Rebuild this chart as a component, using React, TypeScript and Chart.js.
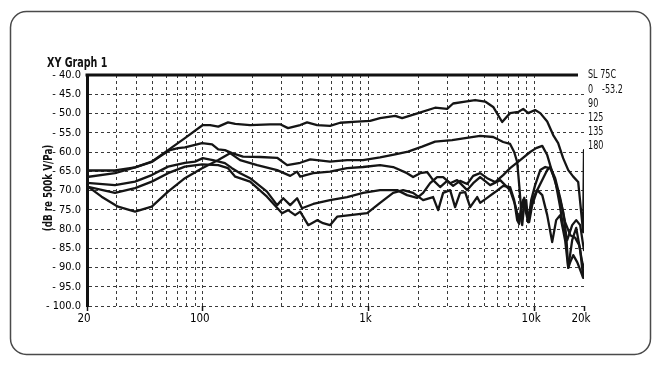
import React, { useEffect, useRef } from 'react';
import { Chart, registerables } from 'chart.js';

Chart.register(...registerables);

const FONT = "'DejaVu Sans Condensed', 'Liberation Sans Narrow', sans-serif";

const chartTitle = 'XY Graph 1';
const yAxisTitle = '(dB re 500k V/Pa)';
const legendHeader = 'SL 75C';
const legendNames = ['0', '90', '125', '135', '180'];
const legendValues = ['-53.2', '', '', '', ''];

const yTicks = [-40, -45, -50, -55, -60, -65, -70, -75, -80, -85, -90, -95, -100];
const xTickValues = [20, 30, 40, 50, 60, 70, 80, 90, 100, 200, 300, 400, 500, 600, 700, 800, 900,
  1000, 2000, 3000, 4000, 5000, 6000, 7000, 8000, 9000, 10000, 20000];
const xTickLabels: Record<number, string> = { 20: '20', 100: '100', 1000: '1k', 10000: '10k', 20000: '20k' };

// 0 deg
const freq0 = [20, 29.5, 39, 49.2, 61.7, 78, 100, 110.7, 124, 142, 157, 193, 255, 293, 327, 387, 426, 490, 586, 675, 854, 1023, 1175, 1449, 1597, 1996, 2525, 2985, 3243, 3834, 4406, 5061, 5662, 6412, 7161, 8018, 8590, 9205, 10140, 10890, 11995, 13032, 13964, 14963, 16069, 17218, 18452, 19232, 19770, 20000];
const db0 = [-66.5, -65.5, -64.0, -62.5, -59.5, -56.4, -53.0, -53.0, -53.4, -52.3, -52.7, -53.0, -52.8, -52.8, -53.8, -53.0, -52.3, -53.0, -53.2, -52.4, -52.1, -51.9, -51.2, -50.6, -51.2, -49.9, -48.5, -48.8, -47.4, -46.9, -46.5, -46.9, -48.3, -52.2, -49.9, -49.6, -48.8, -49.9, -49.1, -49.9, -52.1, -55.6, -57.7, -61.6, -64.7, -66.4, -67.8, -75.6, -80.8, -59.5];

// 90 deg
const freq90 = [20, 29.5, 39, 49.2, 56.8, 63.4, 70.9, 78, 99, 113.8, 124, 136, 150, 175, 222, 281, 323, 387, 445, 586, 743, 928, 1175, 1449, 1734, 2108, 2525, 3199, 3834, 4722, 5662, 6503, 7161, 7578, 7902, 8128, 8354, 8472, 8710, 8954, 9205, 9598, 10140, 10890, 11668, 12503, 13397, 14355, 14963, 15834, 16972, 17948, 18970, 19770, 20000];
const db90 = [-64.8, -64.8, -64.0, -62.6, -60.8, -59.5, -59.0, -58.8, -57.7, -58.0, -59.3, -59.5, -60.3, -61.2, -61.3, -61.5, -63.4, -62.8, -61.9, -62.5, -62.1, -62.1, -61.4, -60.6, -59.9, -58.6, -57.3, -56.9, -56.4, -55.8, -56.1, -57.4, -57.9, -60.0, -62.6, -68.6, -75.1, -79.0, -73.8, -72.5, -78.2, -72.5, -68.6, -64.7, -63.9, -64.2, -67.3, -74.3, -79.5, -82.9, -79.0, -77.7, -79.0, -84.2, -85.5];

// 125 deg
const freq125 = [20, 24.5, 30.8, 39, 49.2, 61.7, 78, 99, 124, 146, 168, 213, 281, 337, 371, 387, 464, 586, 743, 928, 1175, 1409, 1710, 1860, 2051, 2260, 2456, 2708, 2985, 3243, 3574, 3943, 4286, 4722, 5206, 5818, 6503, 7161, 8241, 9464, 10282, 11196, 11995, 12853, 13964, 14963, 15614, 16069, 16520, 17218, 18197, 18970, 19770, 20000];
const db125 = [-68.8, -71.6, -74.2, -75.5, -74.2, -70.3, -66.8, -64.2, -62.1, -60.3, -62.1, -63.4, -64.7, -66.2, -65.1, -66.4, -65.5, -65.1, -64.2, -63.9, -63.4, -63.9, -65.5, -66.5, -65.5, -65.2, -67.3, -69.1, -67.5, -68.8, -67.5, -68.3, -66.2, -65.5, -66.8, -67.8, -66.0, -64.2, -62.1, -60.0, -59.0, -58.4, -60.8, -65.2, -70.4, -75.6, -81.6, -90.1, -88.6, -86.8, -88.6, -90.6, -92.7, -92.2];

// 135 deg
const freq135 = [20, 29.5, 39, 49.2, 61.7, 78, 89.8, 100, 115, 136, 150, 168, 193, 244, 281, 306, 337, 371, 397, 464, 586, 743, 928, 1175, 1490, 1710, 1968, 2138, 2356, 2597, 2823, 3112, 3428, 3943, 4286, 4722, 5429, 6238, 6683, 7161, 7692, 8128, 8590, 9205, 9734, 10436, 11196, 11995, 12853, 13586, 14355, 15383, 16069, 16972, 17948, 18970, 19770, 20000];
const db135 = [-68.0, -68.6, -67.7, -66.0, -63.8, -62.8, -62.5, -61.6, -62.1, -62.9, -64.2, -65.5, -66.8, -70.3, -73.8, -72.0, -73.8, -72.0, -74.6, -73.5, -72.5, -71.7, -70.6, -69.9, -69.9, -71.2, -71.9, -70.6, -68.1, -66.5, -66.5, -68.1, -67.3, -69.9, -68.1, -66.5, -68.6, -67.3, -68.6, -69.9, -73.8, -78.2, -72.5, -78.2, -72.5, -69.9, -71.2, -76.4, -83.4, -77.7, -76.4, -82.9, -90.1, -82.9, -79.7, -85.5, -92.5, -90.6];

// 180 deg
const freq180 = [20, 29.5, 39, 49.2, 61.7, 78, 99, 124, 142, 157, 193, 244, 301, 327, 361, 387, 433, 490, 532, 586, 647, 775, 982, 1175, 1409, 1619, 1860, 2138, 2456, 2634, 2823, 3112, 3334, 3574, 3834, 4111, 4530, 4722, 5206, 5818, 6503, 7161, 7578, 7902, 8128, 8354, 8710, 9078, 9334, 9734, 10436, 11196, 11995, 12503, 13397, 14355, 15383, 16520, 17701, 18709, 19502, 20000];
const db180 = [-69.0, -70.6, -69.4, -67.7, -65.5, -63.8, -63.2, -63.4, -64.2, -66.4, -67.7, -71.6, -75.9, -75.1, -76.4, -75.5, -79.0, -77.7, -78.5, -79.0, -76.8, -76.4, -75.9, -73.2, -70.6, -69.9, -70.6, -72.5, -71.7, -75.1, -70.6, -69.9, -74.3, -70.6, -70.4, -74.3, -71.7, -73.2, -71.9, -70.4, -68.8, -69.1, -72.5, -77.7, -78.7, -73.8, -71.9, -76.4, -78.2, -73.8, -69.9, -67.3, -64.7, -63.9, -66.8, -71.9, -78.2, -81.6, -82.3, -84.2, -88.6, -90.1];

const seriesFreqs = [freq0, freq90, freq125, freq135, freq180];
const seriesDb = [db0, db90, db125, db135, db180];

// draw text horizontally condensed to mimic the narrow face of the original
function narrowText(ctx: CanvasRenderingContext2D, text: string, x: number, y: number, squeeze: number) {
  ctx.save();
  ctx.translate(x, y);
  ctx.scale(squeeze, 1);
  ctx.fillText(text, 0, 0);
  ctx.restore();
}

const decoPlugin = {
  id: 'deco',
  beforeDraw(chart: any) {
    const ctx = chart.ctx;
    ctx.save();
    ctx.fillStyle = '#ffffff';
    ctx.fillRect(0, 0, chart.width, chart.height);
    ctx.strokeStyle = '#4a4a4a';
    ctx.lineWidth = 1.5;
    const x = 10.5, y = 11.5, w = 640, h = 343, r = 16;
    ctx.beginPath();
    ctx.moveTo(x + r, y);
    ctx.lineTo(x + w - r, y);
    ctx.arcTo(x + w, y, x + w, y + r, r);
    ctx.lineTo(x + w, y + h - r);
    ctx.arcTo(x + w, y + h, x + w - r, y + h, r);
    ctx.lineTo(x + r, y + h);
    ctx.arcTo(x, y + h, x, y + h - r, r);
    ctx.lineTo(x, y + r);
    ctx.arcTo(x, y, x + r, y, r);
    ctx.closePath();
    ctx.stroke();
    ctx.restore();
  },
  afterDraw(chart: any) {
    const ctx = chart.ctx;
    const area = chart.chartArea;
    ctx.save();
    ctx.strokeStyle = '#111';
    ctx.lineWidth = 3;
    ctx.beginPath();
    ctx.moveTo(area.left - 1.5, area.top);
    ctx.lineTo(area.right - 6, area.top);
    ctx.stroke();

    ctx.fillStyle = '#111';
    ctx.textBaseline = 'alphabetic';
    ctx.textAlign = 'left';
    ctx.font = `bold 14px ${FONT}`;
    narrowText(ctx, chartTitle, 47, 67, 0.76);

    ctx.save();
    ctx.translate(52, 188);
    ctx.rotate(-Math.PI / 2);
    ctx.textAlign = 'center';
    ctx.font = `bold 12.5px ${FONT}`;
    ctx.scale(0.78, 1);
    ctx.fillText(yAxisTitle, 0, 0);
    ctx.restore();

    ctx.font = `11.5px ${FONT}`;
    ctx.textBaseline = 'middle';
    narrowText(ctx, legendHeader, 588, 75, 0.78);
    legendNames.forEach((name, i) => {
      const yy = 90 + i * 14;
      narrowText(ctx, name, 588, yy, 0.78);
      if (legendValues[i]) narrowText(ctx, legendValues[i], 602, yy, 0.78);
    });
    ctx.restore();
  },
};

export default function App() {
  const ref = useRef<HTMLCanvasElement | null>(null);

  useEffect(() => {
    if (!ref.current) return;
    const datasets = seriesFreqs.map((fr, si) => ({
      label: legendNames[si],
      data: fr.map((f, i) => ({ x: f, y: seriesDb[si][i] })),
      borderColor: '#151515',
      borderWidth: 2.3,
      pointRadius: 0,
      tension: 0,
      fill: false,
      borderJoinStyle: 'round' as const,
      borderCapStyle: 'round' as const,
    }));

    const chart = new Chart(ref.current, {
      type: 'line',
      data: { datasets },
      plugins: [decoPlugin],
      options: {
        animation: false,
        responsive: false,
        maintainAspectRatio: false,
        parsing: false as any,
        layout: { padding: { left: 0, right: 79, top: 75, bottom: 44 } },
        plugins: { legend: { display: false }, tooltip: { enabled: false } },
        scales: {
          x: {
            type: 'logarithmic',
            min: 20,
            max: 20000,
            afterBuildTicks: (s: any) => { s.ticks = xTickValues.map((v) => ({ value: v })); },
            afterFit: (s: any) => { s.height = 20; },
            ticks: {
              autoSkip: false,
              maxRotation: 0,
              minRotation: 0,
              padding: 1,
              labelOffset: -3,
              color: '#000',
              font: { family: FONT, size: 11.5 },
              callback: (v: any) => xTickLabels[Number(v)] ?? '',
            },
            grid: {
              color: (c: any) => (c.tick && c.tick.value === 20000 ? 'rgba(0,0,0,0)' : '#3a3a3a'),
              lineWidth: 1,
              tickLength: 5,
              tickWidth: 1.5,
              tickBorderDash: [],
              tickColor: (c: any) => (c.tick && xTickLabels[c.tick.value] ? '#111' : 'rgba(0,0,0,0)'),
            },
            border: { display: false, dash: [3, 3] },
          } as any,
          y: {
            type: 'linear',
            min: -100,
            max: -40,
            afterBuildTicks: (s: any) => { s.ticks = yTicks.map((v) => ({ value: v })); },
            afterFit: (s: any) => { s.width = 87; },
            ticks: {
              padding: 6,
              color: '#000',
              font: { family: FONT, size: 11 },
              callback: (v: any) => '- ' + Math.abs(Number(v)).toFixed(1),
            },
            grid: {
              color: (c: any) => (c.tick && c.tick.value === -40 ? 'rgba(0,0,0,0)' : '#3a3a3a'),
              lineWidth: 1,
              drawTicks: false,
            },
            border: { display: true, color: '#111', width: 3, dash: [3, 3] },
          } as any,
        },
      },
    });
    return () => chart.destroy();
  }, []);

  return (
    <div style={{ position: 'fixed', left: 0, top: 0, width: 663, height: 370 }}>
      <canvas ref={ref} width={663} height={370} style={{ display: 'block' }} />
    </div>
  );
}
